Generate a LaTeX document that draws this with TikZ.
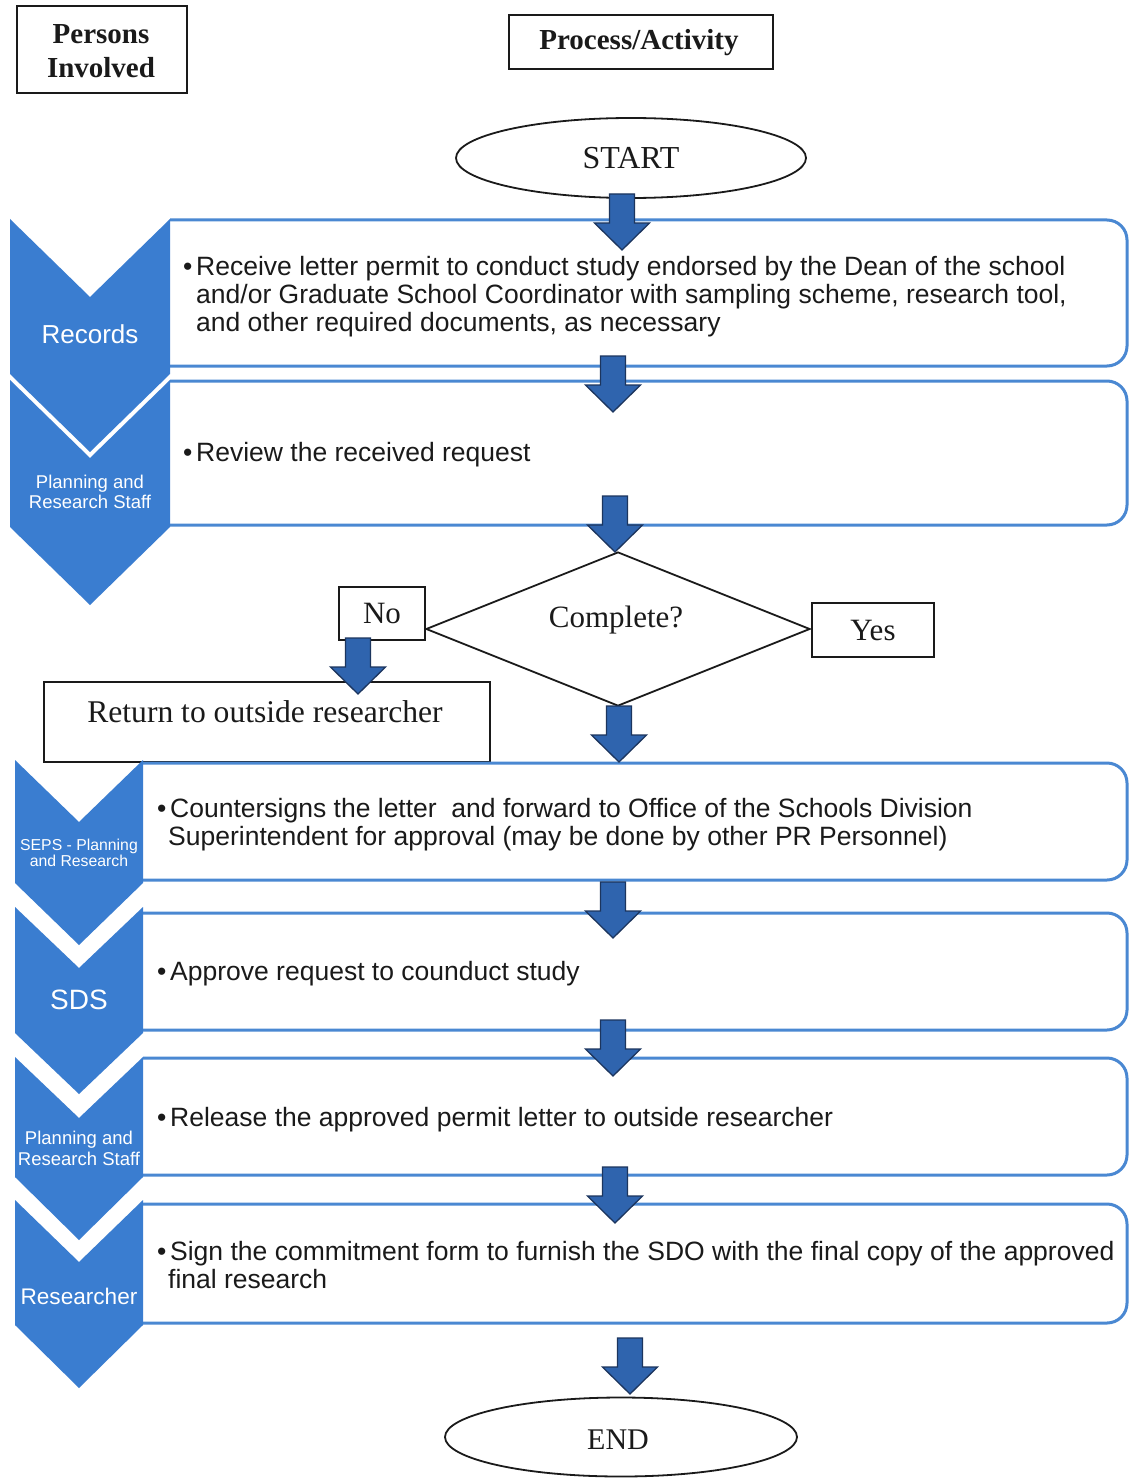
\documentclass[tikz,border=0pt]{standalone}
\usepackage{fontspec}
\setmainfont{Liberation Serif}
\newfontfamily\arial{Liberation Sans}
\usetikzlibrary{shapes.geometric}
\definecolor{chev}{HTML}{3A7DD0}
\definecolor{bline}{HTML}{4A88D2}
\definecolor{arrfill}{HTML}{2F64AE}
\definecolor{arrline}{HTML}{1C355E}
\definecolor{ink}{HTML}{1A1A1A}
\tikzset{
  chevron/.style={fill=chev, draw=none},
  procbox/.style={draw=bline, line width=3pt, rounded corners=20pt},
  bodytext/.style={font=\arial\fontsize{26.5}{28}\selectfont, anchor=north west, inner sep=0pt, align=left, text=ink},
  chevtext/.style={font=\arial, text=white, align=center, inner sep=0pt},
  blackbox/.style={draw=ink, line width=1.8pt},
  serif31/.style={font=\fontsize{31}{34}\selectfont, text=ink, inner sep=0pt},
  blockarrow/.pic={
    \filldraw[fill=arrfill, draw=arrline, line width=1.3pt]
      (-12.5,0) -- (12.5,0) -- (12.5,29) -- (27.5,29) -- (0,56) -- (-27.5,29) -- (-12.5,29) -- cycle;
  }
}
\newcommand{\bul}{\makebox[13pt][l]{\raisebox{0pt}{•}}}
\begin{document}
\begin{tikzpicture}[x=1pt,y=-1pt]
\useasboundingbox (0,0) rectangle (1130,1479);
\fill[white] (0,0) rectangle (1130,1479);

% header boxes
\draw[blackbox] (17,6) rectangle (187,93);
\node[font=\bfseries\fontsize{29}{34}\selectfont, text=ink, align=center, inner sep=0pt] (persons) at (101,51) {Persons\\Involved};
\draw[blackbox] (509,15) rectangle (773,69);
\node[font=\bfseries\fontsize{29}{34}\selectfont, text=ink, inner sep=0pt] (process) at (639,43) {Process/Activity};

% start
\node[ellipse, blackbox, minimum width=350pt, minimum height=80pt, inner sep=0pt, font=\fontsize{32}{34}\selectfont, text=ink] (start) at (631,158) {START};

% upper process boxes
\draw[procbox] (170,220) -- (1127,220) -- (1127,366) -- (170,366);
\draw[procbox] (170,381) -- (1127,381) -- (1127,525) -- (170,525);

% upper chevrons
\fill[chevron] (10,219) -- (90,297) -- (170,219) -- (170,374) -- (90,452) -- (10,374) -- cycle;
\fill[chevron] (10,380) -- (90,458) -- (170,380) -- (170,527) -- (90,605) -- (10,527) -- cycle;
\node[chevtext, font=\arial\fontsize{26}{28}\selectfont] (records) at (90,334) {Records};
\node[chevtext, font=\arial\fontsize{18.5}{20}\selectfont] (prs1) at (90,492) {Planning and\\Research Staff};

\node[bodytext] (t1) at (183,256) {\bul Receive letter permit to conduct study endorsed by the Dean of the school\\
\hspace*{13pt}and/or Graduate School Coordinator with sampling scheme, research tool,\\
\hspace*{13pt}and other required documents, as necessary};
\node[bodytext] (t2) at (183,442) {\bul Review the received request};

% decision
\node[diamond, blackbox, minimum width=384pt, minimum height=154pt, inner sep=0pt] (dia) at (618,629) {};
\node[serif31] (diatext) at (616,620) {Complete?};
\node[blackbox, minimum width=86pt, minimum height=53pt, serif31] (no) at (382,613.5) {No};
\node[blackbox, minimum width=122pt, minimum height=54pt, serif31] (yes) at (873,630) {Yes};
\node[blackbox, minimum width=446pt, minimum height=80pt, serif31] (ret) at (267,722) {};
\node[serif31, font=\fontsize{31.6}{34}\selectfont] (rettext) at (265,712) {Return to outside researcher};

% lower process boxes
\draw[procbox] (143,763) -- (1127,763) -- (1127,880) -- (143,880);
\draw[procbox] (143,913) -- (1127,913) -- (1127,1030) -- (143,1030);
\draw[procbox] (143,1058) -- (1127,1058) -- (1127,1175) -- (143,1175);
\draw[procbox] (143,1204) -- (1127,1204) -- (1127,1323) -- (143,1323);

% lower chevrons
\fill[chevron] (15,760) -- (79,822) -- (143,760) -- (143,883) -- (79,945) -- (15,883) -- cycle;
\fill[chevron] (15,907) -- (79,968) -- (143,907) -- (143,1033) -- (79,1094) -- (15,1033) -- cycle;
\fill[chevron] (15,1057) -- (79,1118) -- (143,1057) -- (143,1177) -- (79,1240) -- (15,1177) -- cycle;
\fill[chevron] (15,1200) -- (79,1262) -- (143,1200) -- (143,1325) -- (79,1388) -- (15,1325) -- cycle;
\node[chevtext, font=\arial\fontsize{15.8}{16}\selectfont] (seps) at (79,853) {SEPS - Planning\\and Research};
\node[chevtext, font=\arial\fontsize{28}{30}\selectfont] (sds) at (79,1000) {SDS};
\node[chevtext, font=\arial\fontsize{18.5}{21}\selectfont] (prs2) at (79,1148) {Planning and\\Research Staff};
\node[chevtext, font=\arial\fontsize{22.6}{24}\selectfont] (res) at (79,1296) {Researcher};

\node[bodytext] (t3) at (157,798) {\bul Countersigns the letter \ and forward to Office of the Schools Division\\
\hspace*{11pt}Superintendent for approval (may be done by other PR Personnel)};
\node[bodytext] (t4) at (157,961) {\bul Approve request to counduct study};
\node[bodytext] (t5) at (157,1107) {\bul Release the approved permit letter to outside researcher};
\node[bodytext] (t6) at (157,1241) {\bul Sign the commitment form to furnish the SDO with the final copy of the approved\\
\hspace*{11pt}final research};

% end
\node[ellipse, blackbox, minimum width=352pt, minimum height=79pt, inner sep=0pt, text=ink] (end) at (621,1437) {};
\node[font=\fontsize{30}{32}\selectfont, text=ink, inner sep=0pt] (endtext) at (618,1440) {END};

% block arrows
\coordinate (a1) at (622,194);
\coordinate (a2) at (613,356);
\coordinate (a3) at (615,496);
\coordinate (a4) at (358,638);
\coordinate (a5) at (619,706);
\coordinate (a6) at (613,882);
\coordinate (a7) at (613,1020);
\coordinate (a8) at (615,1167);
\coordinate (a9) at (630,1338);
\foreach \a in {a1,a2,a3,a4,a5,a6,a7,a8,a9} { \pic at (\a) {blockarrow}; }
\end{tikzpicture}
\end{document}
